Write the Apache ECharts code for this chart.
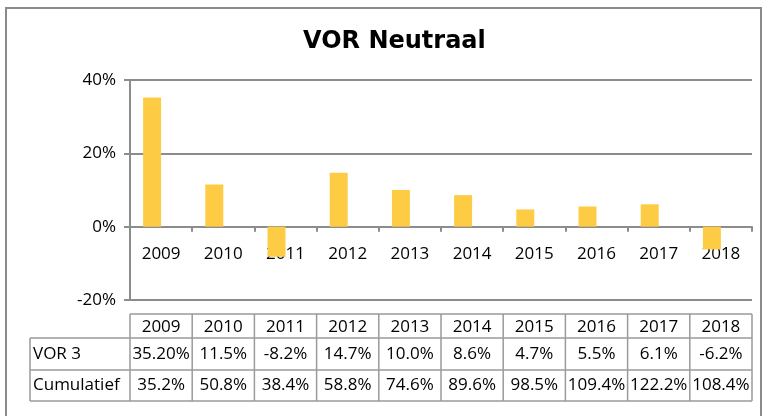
<!DOCTYPE html>
<html>
<head>
<meta charset="utf-8">
<script src="https://cdn.jsdelivr.net/npm/echarts@6/dist/echarts.min.js"></script>
<style>
  html, body { margin: 0; padding: 0; background: #fff; }
  #main { width: 764px; height: 416px; }
</style>
</head>
<body>
<div id="main"></div>
<script>
  var years = ['2009', '2010', '2011', '2012', '2013', '2014', '2015', '2016', '2017', '2018'];
  var vor3 = [35.2, 11.5, -8.2, 14.7, 10.0, 8.6, 4.7, 5.5, 6.1, -6.2];
  var vor3Text = ['35.20%', '11.5%', '-8.2%', '14.7%', '10.0%', '8.6%', '4.7%', '5.5%', '6.1%', '-6.2%'];
  var cumulatief = [35.2, 50.8, 38.4, 58.8, 74.6, 89.6, 98.5, 109.4, 122.2, 108.4];
  var rowNames = ['VOR 3', 'Cumulatief'];
  var yMin = -20, yMax = 40, yStep = 20;

  var font = 'Open Sans';
  var lineGray = '#8c8c8c';
  var chart = echarts.init(document.getElementById('main'));

  chart.setOption({
    backgroundColor: '#ffffff',
    animation: false,
    title: {
      text: 'VOR Neutraal',
      left: 298,
      top: 25,
      textStyle: { fontFamily: 'DejaVu Sans', fontWeight: 'bold', fontSize: 24, color: '#000' }
    },
    grid: { left: 130, right: 12, top: 80, bottom: 116 },
    xAxis: {
      type: 'category',
      data: years,
      axisLine: { onZero: false, lineStyle: { color: lineGray, width: 2 } },
      axisTick: { show: true, length: 5, lineStyle: { color: lineGray, width: 2 } },
      axisLabel: { margin: 19, fontFamily: font, fontSize: 17, color: '#000' }
    },
    yAxis: {
      type: 'value',
      min: yMin,
      max: yMax,
      interval: yStep,
      axisLine: { show: true, lineStyle: { color: lineGray, width: 2 } },
      axisTick: { show: true, length: 6, lineStyle: { color: lineGray, width: 2 } },
      axisLabel: { margin: 14, formatter: '{value}%', fontFamily: font, fontSize: 17, color: '#000' },
      splitLine: { lineStyle: { color: lineGray, width: 2 } }
    },
    series: [
      {
        name: 'VOR 3',
        type: 'bar',
        data: vor3,
        barWidth: 18,
        barGap: '0%',
        itemStyle: { color: '#fecb44' }
      },
      {
        // lege tweede reeks, zoals in Excel (schuift de staven links van het midden)
        name: 'leeg',
        type: 'bar',
        data: years.map(function () { return '-'; }),
        barWidth: 18
      }
    ]
  });

  // x-as op de nullijn leggen
  var yZero = chart.convertToPixel({ yAxisIndex: 0 }, 0);
  var yBottom = chart.convertToPixel({ yAxisIndex: 0 }, yMin);
  chart.setOption({ xAxis: { offset: yZero - yBottom } });

  // tabel onder de grafiek
  var band = chart.convertToPixel({ xAxisIndex: 0 }, years[1]) - chart.convertToPixel({ xAxisIndex: 0 }, years[0]);
  var x0 = chart.convertToPixel({ xAxisIndex: 0 }, years[0]) - band / 2;
  var x1 = x0 + band * years.length;
  var labelLeft = 30;
  var rows = [314, 338, 370, 401];
  var tStroke = { stroke: '#9a9a9a', lineWidth: 1.5 };
  var g = [];

  g.push({ type: 'rect', shape: { x: 6, y: 8, width: 755, height: 430 }, style: { fill: 'none', stroke: '#8a8a8a', lineWidth: 2 }, silent: true });

  g.push({ type: 'line', shape: { x1: x0, y1: rows[0], x2: x1, y2: rows[0] }, style: tStroke });
  for (var r = 1; r < rows.length; r++) {
    g.push({ type: 'line', shape: { x1: labelLeft, y1: rows[r], x2: x1, y2: rows[r] }, style: tStroke });
  }
  g.push({ type: 'line', shape: { x1: labelLeft, y1: rows[1], x2: labelLeft, y2: rows[3] }, style: tStroke });
  for (var i = 0; i <= years.length; i++) {
    var x = x0 + band * i;
    g.push({ type: 'line', shape: { x1: x, y1: rows[0], x2: x, y2: rows[3] }, style: tStroke });
  }

  function cellText(txt, cx, cy, align) {
    return {
      type: 'text', x: cx, y: cy,
      style: { text: txt, fontFamily: font, fontSize: 17, fill: '#000', align: align || 'center', verticalAlign: 'middle' }
    };
  }

  for (var j = 0; j < years.length; j++) {
    var cx = x0 + band * (j + 0.5);
    g.push(cellText(years[j], cx, (rows[0] + rows[1]) / 2 + 1));
    g.push(cellText(vor3Text[j], cx, (rows[1] + rows[2]) / 2));
    g.push(cellText(cumulatief[j].toFixed(1) + '%', cx, (rows[2] + rows[3]) / 2));
  }
  g.push(cellText(rowNames[0], labelLeft + 3, (rows[1] + rows[2]) / 2, 'left'));
  g.push(cellText(rowNames[1], labelLeft + 3, (rows[2] + rows[3]) / 2, 'left'));

  chart.setOption({ graphic: g });
</script>
</body>
</html>
